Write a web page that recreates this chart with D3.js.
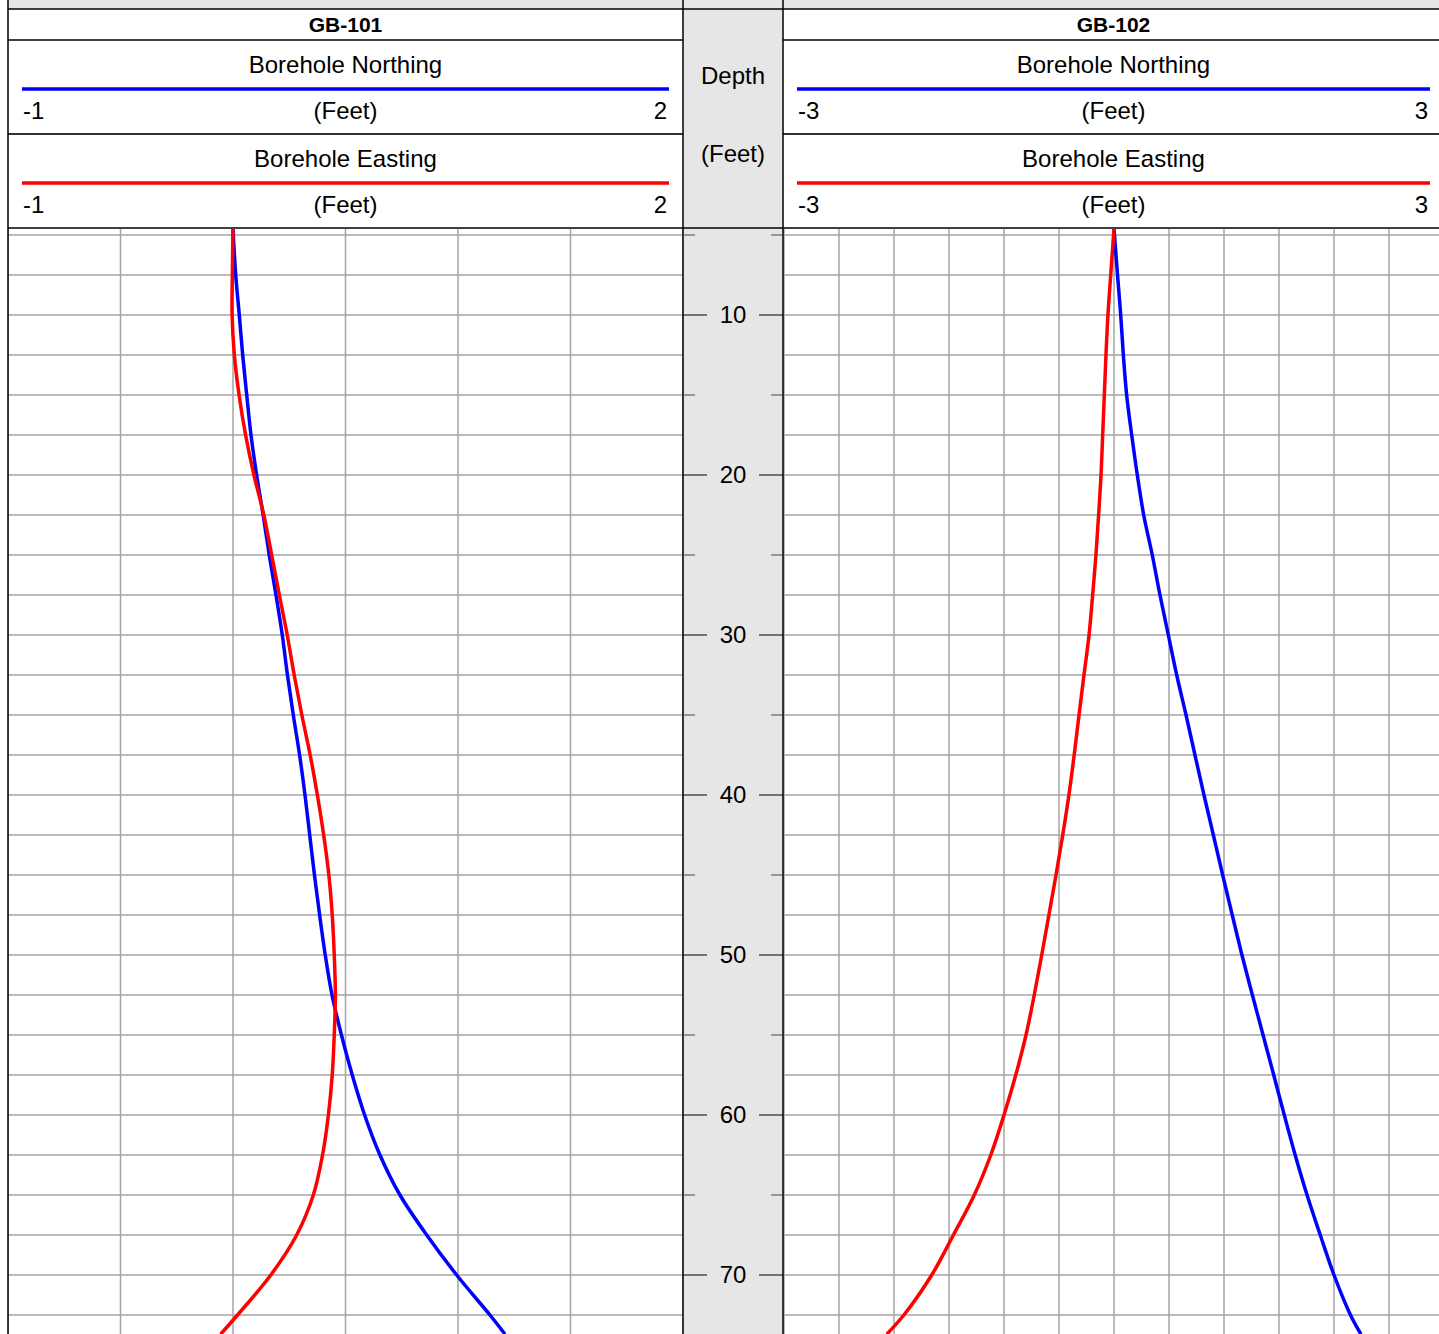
<!DOCTYPE html>
<html><head><meta charset="utf-8">
<script src="https://cdn.jsdelivr.net/npm/d3@7"></script>
<style>
html,body{margin:0;padding:0;overflow:hidden;background:#fff;}
text{font-family:"Liberation Sans",Arial,Helvetica,sans-serif;fill:#000;}
</style>
</head><body><svg id="c"></svg>
<script>
// ---------------- data ----------------
const depths = [4.6, 7.5, 10, 12.5, 15, 17.5, 20, 22.5, 25, 27.5, 30, 32.5, 35, 37.5, 40, 42.5, 45, 47.5, 50, 52.5, 55, 57.5, 60, 62.5, 65, 67.5, 70, 72.5, 73.7];
const gb101Northing = [0, 0.012, 0.028, 0.043, 0.061, 0.08, 0.105, 0.134, 0.161, 0.191, 0.219, 0.242, 0.268, 0.296, 0.32, 0.341, 0.362, 0.385, 0.41, 0.44, 0.482, 0.53, 0.585, 0.653, 0.742, 0.861, 0.994, 1.142, 1.209];
const gb101Easting  = [0, -0.003, -0.004, 0.006, 0.027, 0.056, 0.093, 0.137, 0.172, 0.206, 0.241, 0.272, 0.306, 0.343, 0.375, 0.403, 0.426, 0.441, 0.45, 0.455, 0.45, 0.441, 0.424, 0.398, 0.357, 0.283, 0.168, 0.02, -0.055];
const gb102Northing = [0, 0.032, 0.061, 0.085, 0.115, 0.161, 0.212, 0.27, 0.348, 0.418, 0.494, 0.57, 0.655, 0.736, 0.818, 0.903, 0.988, 1.075, 1.163, 1.258, 1.355, 1.452, 1.548, 1.647, 1.755, 1.875, 2.0, 2.15, 2.245];
const gb102Easting  = [0, -0.03, -0.055, -0.073, -0.088, -0.103, -0.118, -0.14, -0.164, -0.194, -0.227, -0.273, -0.318, -0.362, -0.41, -0.466, -0.527, -0.592, -0.657, -0.725, -0.8, -0.893, -1.0, -1.12, -1.27, -1.46, -1.657, -1.91, -2.066];
const boreholeNames = ["GB-101", "GB-102"];
const seriesNames = ["Borehole Northing", "Borehole Easting"];
const unitLabel = "(Feet)";
const gb101Range = [-1, 2];
const gb102Range = [-3, 3];
const depthTickLabels = [10, 20, 30, 40, 50, 60, 70];
const depthMinorTicks = [5, 15, 25, 35, 45, 55, 65];
const depthTitle = ["Depth", "(Feet)"];

// ---------------- layout ----------------
const W = 1450, H = 1334;
const headTop = 9, row1 = 40, row2 = 134, headBottom = 228, plotTop = 229;
const midX0 = 683, midX1 = 783;
const svg = d3.select("#c").attr("width", W).attr("height", H);

const y = d3.scaleLinear().domain([5, 70]).range([235, 1275]);

const panels = [
  {name: boreholeNames[0], x0: 8, x1: 683, range: gb101Range, north: gb101Northing, east: gb101Easting, step: 0.5},
  {name: boreholeNames[1], x0: 783, x1: 1444, range: gb102Range, north: gb102Northing, east: gb102Easting, step: 0.5}
];
panels[0].x = d3.scaleLinear().domain(gb101Range).range([8, 683]);
panels[1].x = d3.scaleLinear().domain(gb102Range).range([784, 1444]);

// backgrounds
svg.append("rect").attr("x", 8).attr("y", 0).attr("width", W).attr("height", headTop).attr("fill", "#e6e6e6");
svg.append("rect").attr("x", midX0).attr("y", headTop).attr("width", midX1 - midX0).attr("height", H).attr("fill", "#e6e6e6");

const defs = svg.append("defs");
const colors = ["#0000ff", "#ff0000"];

panels.forEach((p, i) => {
  const g = svg.append("g");
  const cid = "clip" + i;
  defs.append("clipPath").attr("id", cid).append("rect")
    .attr("x", p.x0).attr("y", plotTop).attr("width", p.x1 - p.x0).attr("height", H - plotTop);
  const plot = g.append("g").attr("clip-path", `url(#${cid})`);
  // vertical grid
  const xt = d3.range(p.range[0], p.range[1] + 1e-9, p.step);
  plot.selectAll("line.vg").data(xt).join("line")
    .attr("x1", d => p.x(d)).attr("x2", d => p.x(d))
    .attr("y1", plotTop).attr("y2", H)
    .attr("stroke", "#a4a4a4").attr("stroke-width", 1.5);
  // horizontal grid
  const yt = d3.range(5, 75, 2.5);
  plot.selectAll("line.hg").data(yt).join("line")
    .attr("x1", p.x0).attr("x2", p.x1)
    .attr("y1", d => y(d)).attr("y2", d => y(d))
    .attr("stroke", "#a4a4a4").attr("stroke-width", 1.5);
  // curves
  [p.north, p.east].forEach((vals, k) => {
    const line = d3.line().x(d => p.x(d[0])).y(d => y(d[1])).curve(d3.curveCatmullRom.alpha(0.5));
    plot.append("path").datum(vals.map((v, j) => [v, depths[j]]))
      .attr("d", line).attr("fill", "none")
      .attr("stroke", colors[k]).attr("stroke-width", 3.5).attr("stroke-linejoin", "round");
  });

  // header
  const cx = (p.x0 + p.x1) / 2;
  g.append("text").attr("x", cx).attr("y", 32).attr("text-anchor", "middle")
    .attr("font-size", 21).attr("font-weight", "bold").text(p.name);
  [row1, row2].forEach((top, k) => {
    g.append("text").attr("x", cx).attr("y", top + 32.5).attr("text-anchor", "middle")
      .attr("font-size", 24).text(seriesNames[k]);
    g.append("line").attr("x1", p.x0 + 14).attr("x2", p.x1 - 14)
      .attr("y1", top + 49).attr("y2", top + 49)
      .attr("stroke", colors[k]).attr("stroke-width", 3.5);
    g.append("text").attr("x", p.x0 + 15).attr("y", top + 79).attr("font-size", 24).text(p.range[0]);
    g.append("text").attr("x", cx).attr("y", top + 79).attr("text-anchor", "middle").attr("font-size", 24).text(unitLabel);
    g.append("text").attr("x", p.x1 - 16).attr("y", top + 79).attr("text-anchor", "end").attr("font-size", 24).text(p.range[1]);
  });
  // header lines
  [[row1, "#000", 1.5], [row2, "#333", 2]].forEach(([yy, c, w]) => {
    g.append("line").attr("x1", p.x0).attr("x2", p.x1).attr("y1", yy).attr("y2", yy)
      .attr("stroke", c).attr("stroke-width", w);
  });
});

// full-width header lines
[[headTop, 1.5], [headBottom, 1.5]].forEach(([yy, w]) => {
  svg.append("line").attr("x1", 8).attr("x2", W).attr("y1", yy).attr("y2", yy)
    .attr("stroke", "#000").attr("stroke-width", w);
});
// vertical borders
[8, midX0, midX1].forEach(xx => {
  svg.append("line").attr("x1", xx).attr("x2", xx).attr("y1", 0).attr("y2", H)
    .attr("stroke", "#000").attr("stroke-width", 1.5);
});

// depth track
const midC = (midX0 + midX1) / 2;
svg.append("text").attr("x", midC).attr("y", 83.5).attr("text-anchor", "middle").attr("font-size", 24).text(depthTitle[0]);
svg.append("text").attr("x", midC).attr("y", 162).attr("text-anchor", "middle").attr("font-size", 24).text(depthTitle[1]);
const dt = svg.append("g");
depthMinorTicks.forEach(d => {
  dt.append("line").attr("x1", midX0).attr("x2", midX0 + 12).attr("y1", y(d)).attr("y2", y(d)).attr("stroke", "#444").attr("stroke-width", 1);
  dt.append("line").attr("x1", midX1 - 12).attr("x2", midX1).attr("y1", y(d)).attr("y2", y(d)).attr("stroke", "#444").attr("stroke-width", 1);
});
depthTickLabels.forEach(d => {
  dt.append("line").attr("x1", midX0).attr("x2", midX0 + 24).attr("y1", y(d)).attr("y2", y(d)).attr("stroke", "#000").attr("stroke-width", 1);
  dt.append("line").attr("x1", midX1 - 24).attr("x2", midX1).attr("y1", y(d)).attr("y2", y(d)).attr("stroke", "#000").attr("stroke-width", 1);
  dt.append("text").attr("x", midC).attr("y", y(d)).attr("dy", "0.35em").attr("text-anchor", "middle").attr("font-size", 24).text(d);
});
</script>
</body></html>
